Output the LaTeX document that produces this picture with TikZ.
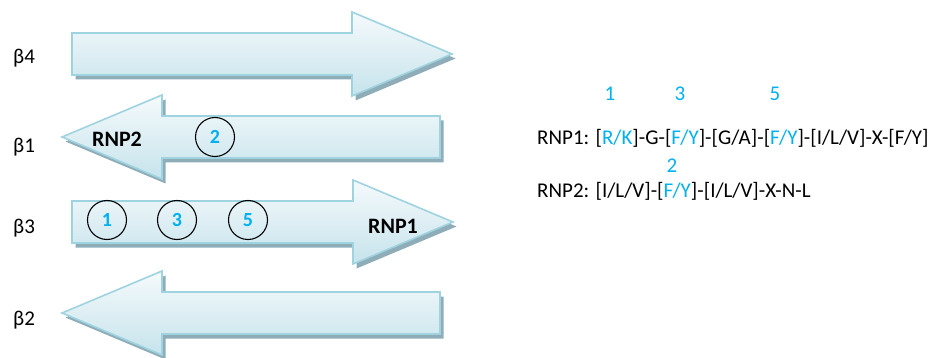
\documentclass[tikz,border=0pt]{standalone}
\usepackage{fontspec}
\setmainfont{Carlito}
\definecolor{cblue}{RGB}{0,176,240}
\definecolor{aborder}{RGB}{158,211,223}
\definecolor{atop}{RGB}{245,250,252}
\definecolor{abot}{RGB}{198,227,236}
\definecolor{ashadow}{RGB}{143,173,184}
\tikzset{
  arrowbox/.style={draw=aborder, line width=1.6pt, top color=atop, bottom color=abot, line join=miter},
  shadowbox/.style={fill=ashadow},
  numcirc/.style={circle, draw=black, line width=1.1pt, minimum size=39pt, inner sep=0pt, text=cblue, font=\bfseries\fontsize{20}{20}\selectfont},
  betalab/.style={font=\fontsize{21}{21}\selectfont, anchor=center},
  seqtxt/.style={font=\fontsize{21}{21}\selectfont, anchor=base west, inner sep=0pt},
  numtxt/.style={font=\fontsize{21}{21}\selectfont, text=cblue, anchor=base, inner sep=0pt},
  rnplab/.style={font=\bfseries\fontsize{22}{22}\selectfont, anchor=center}
}
% right-pointing: left x, head base x, tip x, centre y
\newcommand\drawRarrow[4]{%
  \fill[shadowbox, shift={(3.5,4.5)}] ({#1},{#4-21}) -- ({#2},{#4-21}) -- ({#2},{#4-42}) -- ({#3},{#4}) -- ({#2},{#4+42}) -- ({#2},{#4+21}) -- ({#1},{#4+21}) -- cycle;
  \path[arrowbox] ({#1},{#4-21}) -- ({#2},{#4-21}) -- ({#2},{#4-42}) -- ({#3},{#4}) -- ({#2},{#4+42}) -- ({#2},{#4+21}) -- ({#1},{#4+21}) -- cycle;}
% left-pointing: right x, head base x, tip x, centre y
\newcommand\drawLarrow[4]{%
  \fill[shadowbox, shift={(3.5,4.5)}] ({#1},{#4-21}) -- ({#2},{#4-21}) -- ({#2},{#4-42}) -- ({#3},{#4}) -- ({#2},{#4+42}) -- ({#2},{#4+21}) -- ({#1},{#4+21}) -- cycle;
  \path[arrowbox] ({#1},{#4-21}) -- ({#2},{#4-21}) -- ({#2},{#4-42}) -- ({#3},{#4}) -- ({#2},{#4+42}) -- ({#2},{#4+21}) -- ({#1},{#4+21}) -- cycle;}
\begin{document}
\begin{tikzpicture}[x=1pt,y=-1pt]
\useasboundingbox (0,0) rectangle (937,358);
\drawRarrow{72}{352}{452}{54}
\drawLarrow{440}{162}{62}{137}
\drawRarrow{72}{353}{453}{222}
\drawLarrow{440}{162}{62}{313}

\node[betalab] (b4) at (24,58) {β4};
\node[betalab] (b1) at (24,147) {β1};
\node[betalab] (b3) at (24,228) {β3};
\node[betalab] (b2) at (24,320) {β2};

\node[rnplab] (l2) at (117,139) {RNP2};
\node[rnplab] (l1) at (393,226) {RNP1};

\node[numcirc] (c2) at (215,137) {2};
\node[numcirc] (c1) at (107,220) {1};
\node[numcirc] (c3) at (177,220) {3};
\node[numcirc] (c5) at (248,220) {5};

\node[numtxt] (n1) at (610,101) {1};
\node[numtxt] (n3) at (680,101) {3};
\node[numtxt] (n5) at (775,101) {5};
\node[seqtxt] (s1) at (537,145) {RNP1: [\textcolor{cblue}{R/K}]-G-[\textcolor{cblue}{F/Y}]-[G/A]-[\textcolor{cblue}{F/Y}]-[I/L/V]-X-[F/Y]};
\node[numtxt] (n2) at (672,173) {2};
\node[seqtxt] (s2) at (537,198) {RNP2: [I/L/V]-[\textcolor{cblue}{F/Y}]-[I/L/V]-X-N-L};
\end{tikzpicture}
\end{document}
